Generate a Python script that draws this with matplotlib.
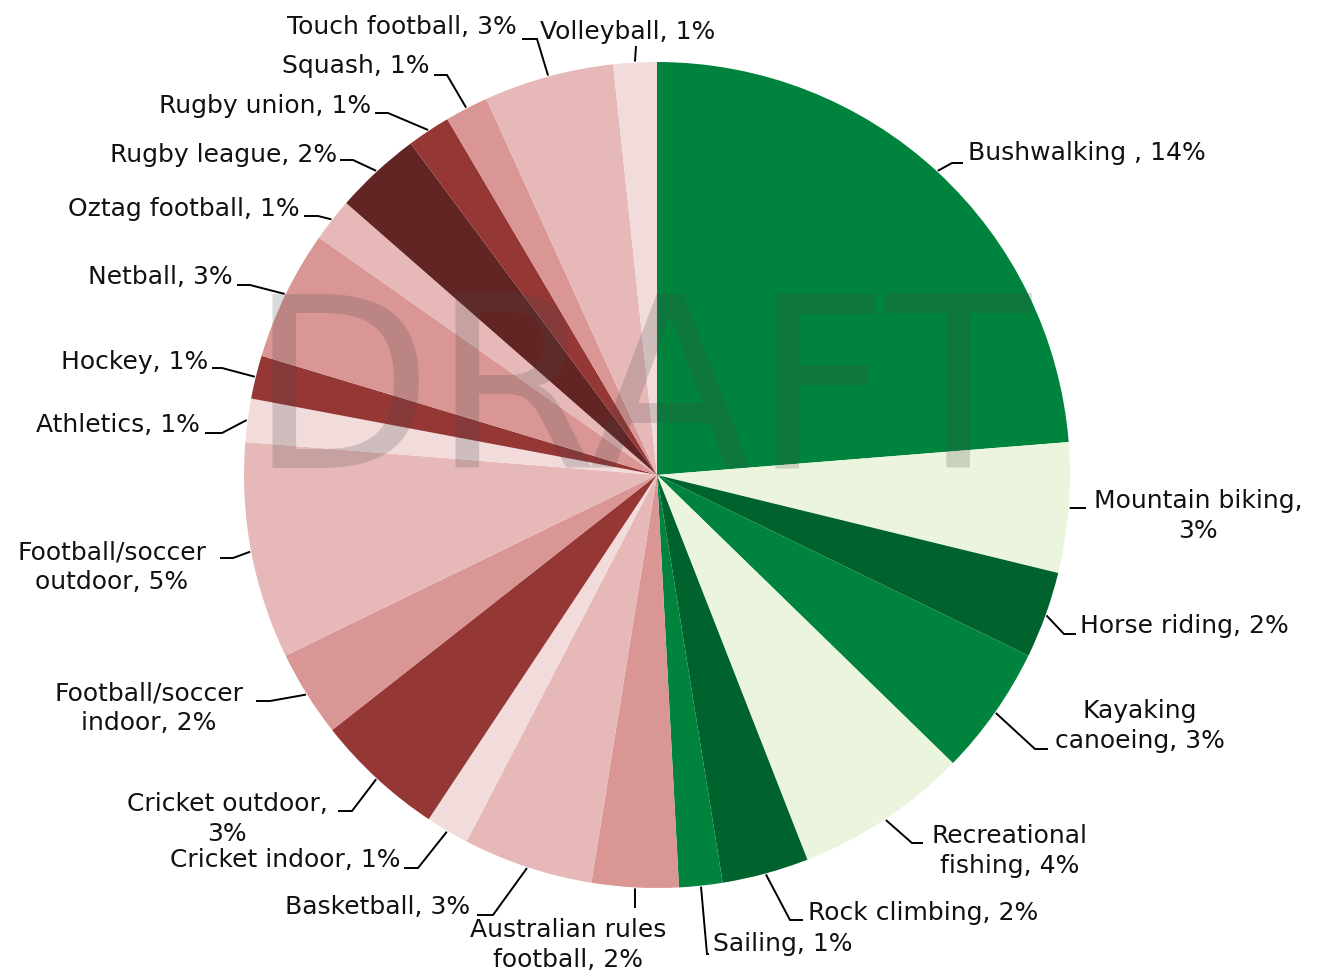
import matplotlib
matplotlib.use('Agg')
import matplotlib.pyplot as plt
import numpy as np

# ---------------- data ----------------
categories = ["Bushwalking", "Mountain biking", "Horse riding", "Kayaking canoeing",
              "Recreational fishing", "Rock climbing", "Sailing", "Australian rules football",
              "Basketball", "Cricket indoor", "Cricket outdoor", "Football/soccer indoor",
              "Football/soccer outdoor", "Athletics", "Hockey", "Netball", "Oztag football",
              "Rugby league", "Rugby union", "Squash", "Touch football", "Volleyball"]
values = [14, 3, 2, 3, 4, 2, 1, 2, 3, 1, 3, 2, 5, 1, 1, 3, 1, 2, 1, 1, 3, 1]
labels = ["Bushwalking , 14%", "Mountain biking,\n3%", "Horse riding, 2%",
          "Kayaking\ncanoeing, 3%", "Recreational\nfishing, 4%", "Rock climbing, 2%",
          "Sailing, 1%", "Australian rules\nfootball, 2%", "Basketball, 3%",
          "Cricket indoor, 1%", "Cricket outdoor,\n3%", "Football/soccer\nindoor, 2%",
          "Football/soccer\noutdoor, 5%", "Athletics, 1%", "Hockey, 1%", "Netball, 3%",
          "Oztag football, 1%", "Rugby league, 2%", "Rugby union, 1%", "Squash, 1%",
          "Touch football, 3%", "Volleyball, 1%"]
colors = ["#00843D", "#EBF5DD", "#00632E", "#00843D", "#EBF5DD", "#00632E", "#00843D",
          "#D99694", "#E6B9B8", "#F2DCDB", "#953735", "#D99694", "#E6B9B8", "#F2DCDB",
          "#953735", "#D99694", "#E6B9B8", "#632523", "#953735", "#D99694", "#E6B9B8",
          "#F2DCDB"]

# label layout in image pixel coords: (text x, text y, ha, elbow x, elbow y, end x)
layout = [
    (968, 153, 'left', 952, 163, 963),
    (1198, 516, 'center', 1072, 508, 1086),
    (1080, 626, 'left', 1064, 634, 1076),
    (1140, 726, 'center', 1035, 749, 1048),
    (1010, 851, 'center', 912, 843, 923),
    (808, 913, 'left', 790, 920, 803),
    (713, 944, 'left', 707, 954, 709),
    (568, 945, 'center', 635, 908, 635),
    (470, 907, 'right', 493, 915, 477),
    (400, 860, 'right', 418, 868, 404),
    (227, 819, 'center', 352, 811, 338),
    (149, 708, 'center', 270, 701, 256),
    (112, 567, 'center', 233, 558, 220),
    (200, 425, 'right', 222, 433, 205),
    (208, 362, 'right', 222, 368, 212),
    (233, 277, 'right', 250, 285, 237),
    (300, 209, 'right', 318, 216, 304),
    (337, 155, 'right', 353, 160, 340),
    (371, 106, 'right', 388, 113, 375),
    (430, 66, 'right', 447, 75, 434),
    (517, 27, 'right', 537, 39, 522),
    (540, 32, 'left', 636, 46, 636),
]

# ---------------- figure ----------------
W, H = 1321, 976
fig = plt.figure(figsize=(W / 100, H / 100), dpi=100)
ax = fig.add_axes([0, 0, 1, 1])


def Y(y):
    return H - y


cx, cy, R = 657, Y(475), 413
wedges, _ = ax.pie(values, colors=colors, startangle=90, counterclock=False,
                   radius=R, center=(cx, cy),
                   wedgeprops=dict(linewidth=0, edgecolor='none'))

FS = 18
for w, lab, (tx, ty, ha, ex, ey, hx) in zip(wedges, labels, layout):
    ang = np.deg2rad((w.theta1 + w.theta2) / 2)
    sx = cx + (R + 1) * np.cos(ang)
    sy = cy + (R + 1) * np.sin(ang)
    ax.plot([sx, ex, hx], [sy, Y(ey), Y(ey)], color='black', lw=1.4,
            solid_capstyle='butt', solid_joinstyle='miter', zorder=3)
    ax.text(tx, Y(ty), lab, ha=ha, va='center', fontsize=FS, linespacing=1.28,
            multialignment='center', color='#111111', family='DejaVu Sans', zorder=4)

# watermark
ax.text(640, Y(467), "DRAFT", ha='center', va='baseline', fontsize=172,
        color=(69 / 255, 69 / 255, 69 / 255), alpha=0.2, family='DejaVu Sans', zorder=5)

ax.set_xlim(0, W)
ax.set_ylim(0, H)
ax.set_aspect('equal')
ax.axis('off')

fig.savefig('out.png', dpi=100)
